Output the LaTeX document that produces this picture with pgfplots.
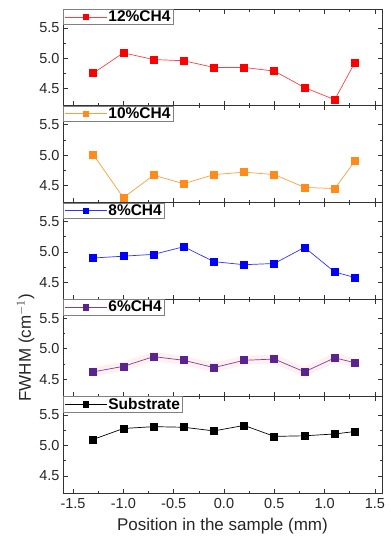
\documentclass[border=0pt]{standalone}
\usepackage{pgfplots}
\pgfplotsset{compat=1.18}
\usepgfplotslibrary{groupplots}
\usepackage{fontspec}
\setmainfont{Liberation Sans}
\definecolor{cred}{HTML}{FF0000}
\definecolor{corange}{HTML}{FF8C1A}
\definecolor{cblue}{HTML}{0000FF}
\definecolor{cpurple}{HTML}{5A2390}
\newcommand{\lf}{\fontsize{15.5}{17}\selectfont\bfseries}
\begin{document}
\begin{tikzpicture}
\begin{groupplot}[
  group style={group size=1 by 5, vertical sep=0pt, xticklabels at=edge bottom},
  width=319pt, height=96.8pt, scale only axis,
  xmin=-1.6, xmax=1.57, ymin=4.22, ymax=5.81,
  xtick={-1.5,-1,-0.5,0,0.5,1,1.5},
  ytick={4.5,5,5.5},
  minor x tick num=1, minor y tick num=1,
  tick align=inside, tick pos=both,
  major tick length=4.5pt, minor tick length=2.5pt,
  axis line style={black!80, line width=0.8pt},
  every tick/.style={black!80, line width=0.7pt},
  xticklabel style={/pgf/number format/fixed, /pgf/number format/fixed zerofill, /pgf/number format/precision=1},
  yticklabel style={/pgf/number format/fixed, /pgf/number format/fixed zerofill, /pgf/number format/precision=1},
  xticklabel shift=2pt,
  /pgf/number format/assume math mode=true,
  tick label style={font=\fontsize{14.5}{16}\selectfont, black!85},
  label style={font=\fontsize{17}{19}\selectfont, black!85},
  legend style={at={(0,1)}, anchor=north west, draw=gray, fill=white,
    inner xsep=1pt, inner ysep=0pt, row sep=0pt,
    nodes={inner sep=1.5pt},
    /tikz/every even column/.append style={column sep=3pt}},
  legend cell align=left,
  legend image code/.code={\draw[#1, mark=none] (0pt,0pt) -- (42pt,0pt); \draw plot[#1, mark size=2.6pt] coordinates {(21pt,0pt)};},
  every axis plot/.append style={line width=0.7pt, mark=square*, mark size=3.5pt},
]
\nextgroupplot
\addplot[color=cred!75, mark options={fill=cred, draw=cred}] coordinates {
(-1.3,4.755) (-1.0,5.09) (-0.7,4.98) (-0.4,4.96) (-0.1,4.85) (0.2,4.85) (0.5,4.79) (0.8,4.52) (1.1,4.32) (1.3,4.93)};
\addlegendentry{\lf 12\%CH4}
\nextgroupplot
\addplot[color=corange!85, mark options={fill=corange, draw=corange}] coordinates {
(-1.3,5.01) (-1.0,4.30) (-0.7,4.67) (-0.4,4.53) (-0.1,4.68) (0.2,4.72) (0.5,4.68) (0.8,4.47) (1.1,4.45) (1.3,4.90)};
\addlegendentry{\lf 10\%CH4}
\nextgroupplot
\addplot[color=cblue!80, mark options={fill=cblue, draw=cblue}] coordinates {
(-1.3,4.90) (-1.0,4.93) (-0.7,4.96) (-0.4,5.085) (-0.1,4.84) (0.2,4.79) (0.5,4.81) (0.8,5.075) (1.1,4.67) (1.3,4.58)};
\addlegendentry{\lf 8\%CH4}
\nextgroupplot[ylabel={FWHM (cm$^{-1}$)}, ylabel style={yshift=-2pt}]
\addplot[color=pink!25, line width=9pt, mark=none, forget plot] coordinates {
(-1.3,4.62) (-1.0,4.71) (-0.7,4.87) (-0.4,4.81) (-0.1,4.69) (0.2,4.81) (0.5,4.83) (0.8,4.62) (1.1,4.85) (1.3,4.77)};
\addplot[color=cpurple!85, mark options={fill=cpurple, draw=cpurple}] coordinates {
(-1.3,4.62) (-1.0,4.71) (-0.7,4.87) (-0.4,4.81) (-0.1,4.69) (0.2,4.81) (0.5,4.83) (0.8,4.62) (1.1,4.85) (1.3,4.77)};
\addlegendentry{\lf 6\%CH4}
\nextgroupplot[xlabel={Position in the sample (mm)}, xlabel style={yshift=-3pt}]
\addplot[color=black, mark options={fill=black, draw=black}] coordinates {
(-1.3,5.10) (-1.0,5.28) (-0.7,5.31) (-0.4,5.30) (-0.1,5.24) (0.2,5.33) (0.5,5.15) (0.8,5.16) (1.1,5.19) (1.3,5.23)};
\addlegendentry{\lf Substrate}
\end{groupplot}
\path (group c1r1.north west) ++(-63pt,9pt) coordinate (tl);
\pgfresetboundingbox
\path[use as bounding box] (tl) rectangle ++(391pt,-550pt);
\end{tikzpicture}
\end{document}
